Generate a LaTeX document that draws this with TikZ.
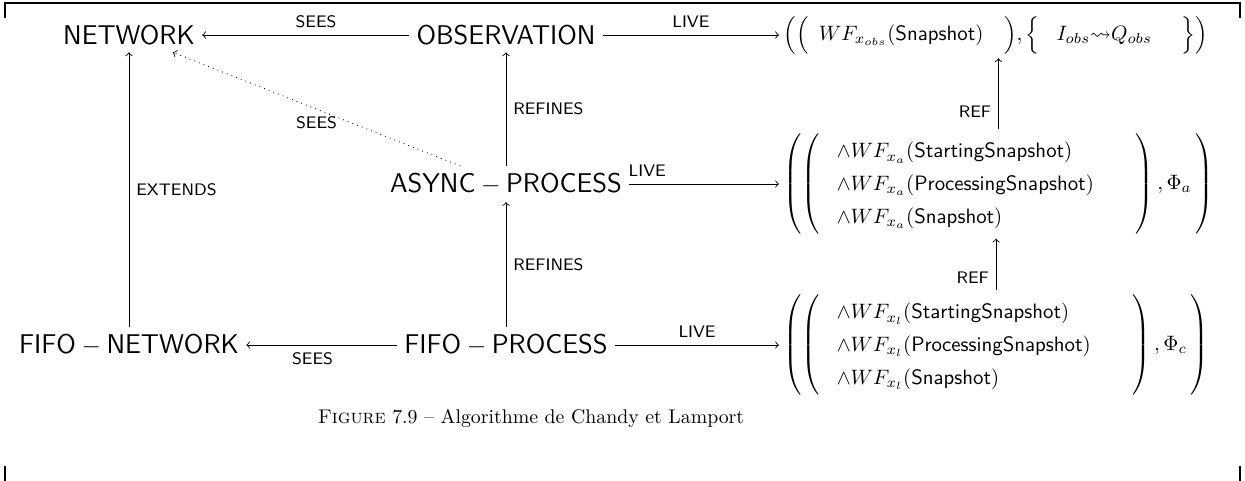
\documentclass[tikz,border=0pt]{standalone}
\usepackage{amsmath,amssymb}
\usepackage{fontspec}
\usepackage{tikz}
\renewcommand{\arraystretch}{1.3}

\begin{document}
\begin{tikzpicture}[x=0.016867cm,y=-0.016867cm,
  mach/.style={font=\fontsize{13}{15}\selectfont\sffamily},
  lbl/.style={font=\sffamily\footnotesize},
  form/.style={anchor=west,inner sep=2pt}]
\useasboundingbox (0,0) rectangle (1245,481);
\draw[line width=0.7pt] (5,18) -- (5,3) -- (1240,3) -- (1240,18);
\draw[line width=0.7pt] (5,466) -- (5,481);
\draw[line width=0.7pt] (1240,466) -- (1240,481);
\node[mach] (network) at (129,35) {NETWORK};
\node[mach] (observation) at (506,35) {OBSERVATION};
\node[mach] (asyncproc) at (506,184) {$\mathsf{ASYNC}-\mathsf{PROCESS}$};
\node[mach] (fifonet) at (129,345) {$\mathsf{FIFO}-\mathsf{NETWORK}$};
\node[mach] (fifoproc) at (506,345) {$\mathsf{FIFO}-\mathsf{PROCESS}$};
\node[form] (obsform) at (779,35) {$\Bigl(\Bigl(\hspace{5pt}WF_{x_{obs}}(\mathsf{Snapshot})\hspace{10pt}\Bigr),\Bigl\{\hspace{8pt}I_{obs}{\leadsto}Q_{obs}\hspace{14pt}\Bigr\}\Bigr)$};
\node[form] (asyncform) at (779,184) {$\left(\left(\begin{array}{@{\hspace{8pt}}l@{\hspace{20pt}}}
  \wedge WF_{x_a}(\mathsf{StartingSnapshot})\\
  \wedge WF_{x_a}(\mathsf{ProcessingSnapshot})\\
  \wedge WF_{x_a}(\mathsf{Snapshot})
  \end{array}\right),\Phi_a\,\right)$};
\node[form] (fifoform) at (779,345) {$\left(\left(\begin{array}{@{\hspace{8pt}}l@{\hspace{20pt}}}
  \wedge WF_{x_l}(\mathsf{StartingSnapshot})\\
  \wedge WF_{x_l}(\mathsf{ProcessingSnapshot})\\
  \wedge WF_{x_l}(\mathsf{Snapshot})
  \end{array}\right),\Phi_c\,\right)$};
\node[font=\fontsize{9.5}{11}\selectfont] (caption) at (531,418) {\textsc{Figure} 7.9 -- Algorithme de Chandy et Lamport};
\draw[->] (observation) -- node[lbl,above,pos=0.45] {SEES} (network);
\draw[->] (observation) -- node[lbl,above] {LIVE} (observation -| obsform.west);
\draw[->] (asyncproc) -- node[lbl,right] {REFINES} (observation);
\draw[->,dotted] (asyncproc) -- node[lbl,below] {SEES} (network);
\draw[->] (asyncproc) -- node[lbl,above,pos=0.12] {LIVE} (asyncproc -| asyncform.west);
\draw[->] (fifonet) -- node[lbl,right] {EXTENDS} (network);
\draw[->] (fifoproc) -- node[lbl,right] {REFINES} (asyncproc);
\draw[->] (fifoproc) -- node[lbl,below,pos=0.56] {SEES} (fifonet);
\draw[->] (fifoproc) -- node[lbl,above] {LIVE} (fifoproc -| fifoform.west);
\draw[->] (asyncform.north) -- node[lbl,left,pos=0.25] {REF} (asyncform.north |- obsform.south);
\draw[->] (fifoform.north) -- node[lbl,left,pos=0.25] {REF} (fifoform.north |- asyncform.south);
\end{tikzpicture}
\end{document}
